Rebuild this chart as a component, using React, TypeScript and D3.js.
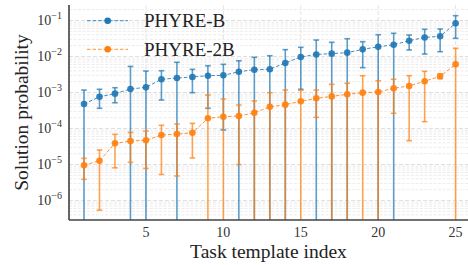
import React from 'react';
import * as d3 from 'd3';

// task template index 1..25
const templates = d3.range(1, 26);

// PHYRE-B: mean solution probability with lower / upper error bounds (0 = clipped below axis)
const phyreBMean = [4.8e-4, 7.6e-4, 9.3e-4, 1.25e-3, 1.39e-3, 2.33e-3, 2.53e-3, 2.7e-3, 2.93e-3, 3.0e-3,
  3.78e-3, 4.3e-3, 4.44e-3, 6.6e-3, 9.7e-3, 1.14e-2, 1.2e-2, 1.28e-2, 1.58e-2, 1.86e-2,
  2.11e-2, 2.75e-2, 3.37e-2, 3.64e-2, 8.4e-2];
const phyreBUpper = [1.17e-3, 1.23e-3, 1.36e-3, 5.3e-3, 3.95e-3, 4.03e-3, 6.9e-3, 4.4e-3, 5.55e-3, 6.07e-3,
  7.6e-3, 9.5e-3, 1.05e-2, 1.55e-2, 1.8e-2, 2.87e-2, 2.48e-2, 3.12e-2, 2.58e-2, 4.03e-2,
  4.41e-2, 3.95e-2, 5.7e-2, 5.8e-2, 1.36e-1];
const phyreBLower = [0, 3.64e-4, 5.2e-4, 0, 0, 6.2e-4, 0, 9.9e-4, 3.64e-4, 9.1e-5,
  0, 0, 0, 0, 1.23e-3, 0, 0, 0, 4.9e-3, 0,
  0, 1.52e-2, 1.17e-2, 1.36e-2, 3.2e-2];

// PHYRE-2B
const phyre2BMean = [9.5e-6, 1.28e-5, 3.88e-5, 4.5e-5, 4.7e-5, 6.6e-5, 7.0e-5, 7.6e-5, 1.92e-4, 2.13e-4,
  2.22e-4, 2.75e-4, 4.0e-4, 4.6e-4, 5.7e-4, 6.9e-4, 7.8e-4, 8.9e-4, 9.9e-4, 1.03e-3,
  1.31e-3, 1.52e-3, 2.05e-3, 2.82e-3, 6.07e-3];
const phyre2BUpper = [1.49e-5, 2.53e-5, 6.9e-5, 7.8e-5, 8.5e-5, 1.23e-4, 1.33e-4, 1.39e-4, 8.5e-4, 6.6e-4,
  4.5e-4, 5.8e-4, 9.9e-4, 1.17e-3, 1.15e-3, 1.17e-3, 1.69e-3, 1.8e-3, 2.93e-3, 2.13e-3,
  2.33e-3, 2.93e-3, 3.88e-3, 3.27e-3, 1.69e-2];
const phyre2BLower = [3.88e-6, 5.4e-7, 8.1e-6, 1.15e-5, 7.8e-6, 5.3e-6, 4.8e-6, 1.52e-5, 0, 0,
  1.0e-5, 0, 0, 0, 0, 2.05e-4, 0, 0, 0, 0,
  2.64e-4, 4.6e-5, 1.55e-4, 2.42e-3, 0];

const xTicks = [5, 10, 15, 20, 25];
const yTickExps = [-6, -5, -4, -3, -2, -1];

const W = 468, H = 265;
const left = 69, right = 468, top = 5, bottom = 220;
const FONT = '"Liberation Serif", "Times New Roman", serif';

const x = d3.scaleLinear().domain([0.03, 25.8]).range([left, right]);
const y = d3.scaleLog().domain([Math.pow(10, -6.54), Math.pow(10, -0.57)]).range([bottom, top]);

const series = [
  { name: 'PHYRE-B', color: '#1f77b4', mean: phyreBMean, lo: phyreBLower, hi: phyreBUpper },
  { name: 'PHYRE-2B', color: '#ff7f0e', mean: phyre2BMean, lo: phyre2BLower, hi: phyre2BUpper },
];

const App = () => {
  const yMin = y.domain()[0];
  const py = (v: number) => y(Math.max(v, yMin));
  const line = d3.line<number>().x((_, i) => x(templates[i])).y(d => y(d));

  const minor: number[] = [];
  for (let e = -7; e <= 0; e++) {
    for (let k = 2; k <= 9; k++) {
      const v = k * Math.pow(10, e);
      if (v > yMin && v < y.domain()[1]) minor.push(v);
    }
  }

  return (
    <svg width={W} height={H} style={{ position: 'absolute', left: 0, top: 0, background: '#fff' }}>
      <defs>
        <clipPath id="plot">
          <rect x={left} y={top} width={right - left} height={bottom - top} />
        </clipPath>
      </defs>
      {/* grid */}
      <g>
        {minor.map((v, i) => (
          <line key={'m' + i} x1={left} x2={right} y1={y(v)} y2={y(v)}
            stroke="#e4e4e4" strokeWidth={0.7} strokeDasharray="3,1.5" />
        ))}
        {yTickExps.map(e => (
          <line key={'y' + e} x1={left} x2={right} y1={y(Math.pow(10, e))} y2={y(Math.pow(10, e))}
            stroke="#d6d6d6" strokeWidth={0.8} strokeDasharray="4,2" />
        ))}
        {xTicks.map(t => (
          <line key={'x' + t} x1={x(t)} x2={x(t)} y1={top} y2={bottom}
            stroke="#dcdcdc" strokeWidth={0.8} strokeDasharray="4,2" />
        ))}
      </g>
      {/* data */}
      <g clipPath="url(#plot)">
        {series.map(s => (
          <g key={s.name}>
            <g stroke={s.color} strokeOpacity={0.72} strokeWidth={1.6}>
              {templates.map((t, i) => (
                <g key={t}>
                  <line x1={x(t)} x2={x(t)} y1={py(s.lo[i])} y2={py(s.hi[i])} />
                  <line x1={x(t) - 2.8} x2={x(t) + 2.8} y1={py(s.hi[i])} y2={py(s.hi[i])} />
                  {s.lo[i] > 0 && (
                    <line x1={x(t) - 2.8} x2={x(t) + 2.8} y1={py(s.lo[i])} y2={py(s.lo[i])} />
                  )}
                </g>
              ))}
            </g>
            <path d={line(s.mean) || ''} fill="none" stroke={s.color} strokeOpacity={0.85}
              strokeWidth={1} strokeDasharray="3.5,2" />
            {templates.map((t, i) => (
              <circle key={t} cx={x(t)} cy={y(s.mean[i])} r={3.3} fill={s.color} fillOpacity={0.9} />
            ))}
          </g>
        ))}
      </g>
      {/* spines */}
      <line x1={left} x2={left} y1={top} y2={bottom} stroke="#333" strokeWidth={1.5} />
      <line x1={left} x2={right} y1={bottom} y2={bottom} stroke="#444" strokeWidth={1.5} />
      {/* y tick labels */}
      {yTickExps.map(e => (
        <text key={e} x={62} y={y(Math.pow(10, e)) + 4.5} textAnchor="end"
          fontFamily={FONT} fontSize={14} fill="#333">
          10<tspan dy={-6} fontSize={10}>{'\u2212' + Math.abs(e)}</tspan>
        </text>
      ))}
      {/* x tick labels */}
      {xTicks.map(t => (
        <text key={t} x={x(t)} y={237} textAnchor="middle" fontFamily={FONT} fontSize={14} fill="#333">{t}</text>
      ))}
      {/* axis labels */}
      <text x={(left + right) / 2} y={258} textAnchor="middle" fontFamily={FONT} fontSize={19.5} fill="#222">
        Task template index
      </text>
      <text transform={`translate(28,${(top + bottom) / 2}) rotate(-90)`} textAnchor="middle"
        fontFamily={FONT} fontSize={19.5} fill="#222">
        Solution probability
      </text>
      {/* legend */}
      {series.map((s, i) => {
        const ly = 20.7 + i * 28.6;
        return (
          <g key={s.name}>
            <line x1={87} x2={128} y1={ly} y2={ly} stroke={s.color} strokeOpacity={0.85}
              strokeWidth={1} strokeDasharray="3.5,2" />
            <circle cx={107.7} cy={ly} r={3.3} fill={s.color} />
            <text x={144} y={ly + 6.5} fontFamily={FONT} fontSize={19} fill="#222">{s.name}</text>
          </g>
        );
      })}
    </svg>
  );
};

export default App;
